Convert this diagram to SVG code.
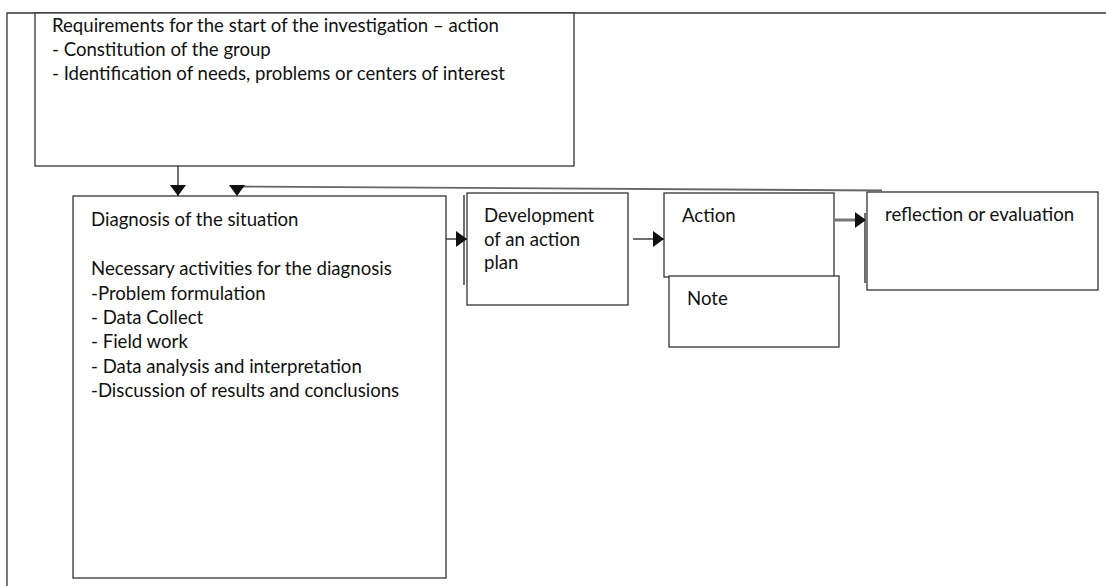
<svg xmlns="http://www.w3.org/2000/svg" width="1106" height="586" viewBox="0 0 1106 586">
<style>
.box{fill:#fff;stroke:#333;stroke-width:1.3}
.frame{fill:none;stroke:#333;stroke-width:1.3}
.t{font-family:Lato,"Liberation Sans",sans-serif;font-size:18.6px;fill:#111}
.c{fill:none;stroke:#222;stroke-width:1.3}
.cg{fill:none;stroke:#777;stroke-width:3}
.fb{fill:none;stroke:#666;stroke-width:1.8}
</style>
<defs>
<marker id="ah" markerUnits="userSpaceOnUse" markerWidth="12" markerHeight="16" refX="11" refY="8" orient="auto" viewBox="0 0 12 16">
<path d="M0,0 L11,8 L0,16 Z" fill="#111"/>
</marker>
</defs>
<rect width="1106" height="586" fill="#fff"/>
<g id="frame">
<path class="frame" d="M7,586 V13 H1106"/>
</g>
<g id="requirements">
<rect class="box" x="35" y="13" width="539" height="153"/>
<text class="t" x="52" y="32">Requirements for the start of the investigation – action</text>
<text class="t" x="52" y="56">- Constitution of the group</text>
<text class="t" x="52" y="80">- Identification of needs, problems or centers of interest</text>
</g>
<g id="diagnosis">
<rect class="box" x="73" y="196" width="373" height="382"/>
<text class="t" x="91" y="226">Diagnosis of the situation</text>
<text class="t" x="91" y="275">Necessary activities for the diagnosis</text>
<text class="t" x="91" y="300">-Problem formulation</text>
<text class="t" x="91" y="324">- Data Collect</text>
<text class="t" x="91" y="348">- Field work</text>
<text class="t" x="91" y="373">- Data analysis and interpretation</text>
<text class="t" x="91" y="397">-Discussion of results and conclusions</text>
</g>
<g id="development">
<line class="c" x1="464" y1="195" x2="464" y2="285"/>
<rect class="box" x="467" y="193" width="161" height="112"/>
<text class="t" x="484" y="222">Development</text>
<text class="t" x="484" y="246">of an action</text>
<text class="t" x="484" y="269">plan</text>
</g>
<g id="action">
<rect class="box" x="664" y="193" width="170" height="84"/>
<text class="t" x="682" y="222">Action</text>
</g>
<g id="note">
<rect class="box" x="669" y="276" width="170" height="71"/>
<text class="t" x="687" y="305">Note</text>
</g>
<g id="reflection">
<line class="c" x1="865" y1="213" x2="865" y2="283"/>
<rect class="box" x="867" y="192" width="231" height="98"/>
<text class="t" x="885" y="221">reflection or evaluation</text>
</g>
<g id="connectors">
<line class="c" x1="178" y1="166" x2="178" y2="196" marker-end="url(#ah)"/>
<polyline class="fb" points="882,190.5 237,186.5 237,196" marker-end="url(#ah)"/>
<line class="c" x1="446" y1="239" x2="467" y2="239" marker-end="url(#ah)"/>
<line class="c" x1="633" y1="239" x2="664" y2="239" marker-end="url(#ah)"/>
<line class="cg" x1="834" y1="220" x2="866" y2="220" marker-end="url(#ah)"/>
</g>
</svg>
